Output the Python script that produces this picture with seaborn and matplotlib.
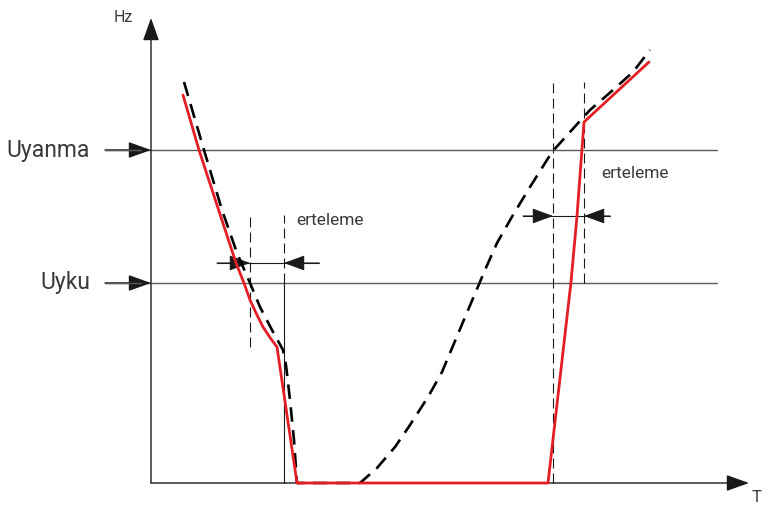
import numpy as np
import pandas as pd
import matplotlib
matplotlib.use("Agg")
import matplotlib.pyplot as plt
import seaborn as sns

# ! Datos (unidades del grafico: origen en el cruce de ejes) -----------------

# ? Curva real (roja)
red_x = [32, 48, 85, 93, 99, 106, 112, 120, 126, 146, 397, 420, 426, 433, 498]
red_y = [388, 333, 220, 200, 183, 168, 156, 144, 136, 0, 0, 201, 267, 361, 421]

# ? Curva ideal (negra discontinua)
dash_x = [33, 53, 71, 86, 99, 109, 121, 132, 135, 139, 143, 146, 209, 226, 244,
          259, 277, 291, 312, 334, 346, 362, 379, 401, 419, 439, 462, 482, 499]
dash_y = [401, 333, 273, 230, 200, 176, 153, 133, 118, 83, 43, 0, 0, 15, 36,
          58, 86, 111, 161, 213, 240, 268, 296, 331, 351, 373, 393, 411, 433]

# ? Umbrales
niveles = ["Uyanma", "Uyku"]
nivel_y = [333, 200]

# ? Erteleme (retardo): lineas verticales y flechas
ert_izq = [99, 133]
ert_der = [402, 433]
ert_izq_y = 220
ert_der_y = 267

red_df = pd.DataFrame({"x": red_x, "y": red_y})
dash_df = pd.DataFrame({"x": dash_x, "y": dash_y})

sns.set_style("white")
plt.rcParams["font.family"] = ["Roboto", "DejaVu Sans"]

fig = plt.figure(figsize=(7.76, 5.09), dpi=100)
ax = fig.add_axes([0, 0, 1, 1])

gris = "#5a5a5a"
negro = "#1a1a1a"
texto = "#3a3a3a"


def flecha(x0, y0, x1, y1, lw=1.0, color=negro, hl=0.7, hw=0.25):
    ax.annotate("", xy=(x1, y1), xytext=(x0, y0),
                arrowprops=dict(arrowstyle=f"-|>,head_length={hl},head_width={hw}",
                                mutation_scale=20, lw=lw, color=color,
                                shrinkA=0, shrinkB=0))


# ? Ejes con flecha
flecha(0, 0, 0, 465, lw=1.0)
flecha(0, 0, 598, 0, lw=1.0)
ax.text(-28, 466, "Hz", fontsize=11.5, color=texto, ha="center", va="center")
ax.text(605, -15, "T", fontsize=12, color=texto, ha="center", va="center")

# ? Lineas de umbral
for nombre, yv in zip(niveles, nivel_y):
    ax.plot([-46, 566], [yv, yv], color=gris, lw=1.0)
    flecha(-46, yv, 0, yv, lw=1.0, color=negro)
    ax.plot([-46, -10], [yv, yv], color=gris, lw=1.0, zorder=3)
    ax.text(-61, yv, nombre, fontsize=16.5, color=texto, ha="right", va="center")

# ? Erteleme izquierda
ax.plot([ert_izq[0]] * 2, [136, 268], color=negro, lw=0.8, ls=(0, (9, 4.5)))
ax.plot([ert_izq[1]] * 2, [200, 268], color=negro, lw=0.8, ls=(0, (9, 4.5)))
ax.plot([ert_izq[1]] * 2, [0, 200], color=negro, lw=0.8)
ax.plot([66, 168], [ert_izq_y] * 2, color=negro, lw=0.8)
flecha(66, ert_izq_y, ert_izq[0], ert_izq_y, lw=0.8, hl=0.65, hw=0.24)
flecha(168, ert_izq_y, ert_izq[1], ert_izq_y, lw=0.8, hl=0.65, hw=0.24)
ax.text(145, 263, "erteleme", fontsize=12.5, color=texto, ha="left", va="center")

# ? Erteleme derecha
ax.plot([ert_der[0]] * 2, [0, 401], color=negro, lw=0.8, ls=(0, (9, 4.5)))
ax.plot([ert_der[1]] * 2, [200, 401], color=negro, lw=0.8, ls=(0, (9, 4.5)))
ax.plot([372, 459], [ert_der_y] * 2, color=negro, lw=0.8)
flecha(372, ert_der_y, ert_der[0], ert_der_y, lw=0.8, hl=0.65, hw=0.24)
flecha(459, ert_der_y, ert_der[1], ert_der_y, lw=0.8, hl=0.65, hw=0.24)
ax.text(450, 310, "erteleme", fontsize=12.5, color=texto, ha="left", va="center")

# ? Curvas
sns.lineplot(data=dash_df, x="x", y="y", ax=ax, sort=False, estimator=None,
             color="black", lw=1.9, linestyle=(0, (5.5, 3.2)), zorder=3)
sns.lineplot(data=red_df, x="x", y="y", ax=ax, sort=False, estimator=None,
             color="#e31e24", lw=2.0, zorder=4)

ax.set_xlim(-151, 625)
ax.set_ylim(-26, 483)
ax.axis("off")

fig.savefig("out.png", dpi=100)
